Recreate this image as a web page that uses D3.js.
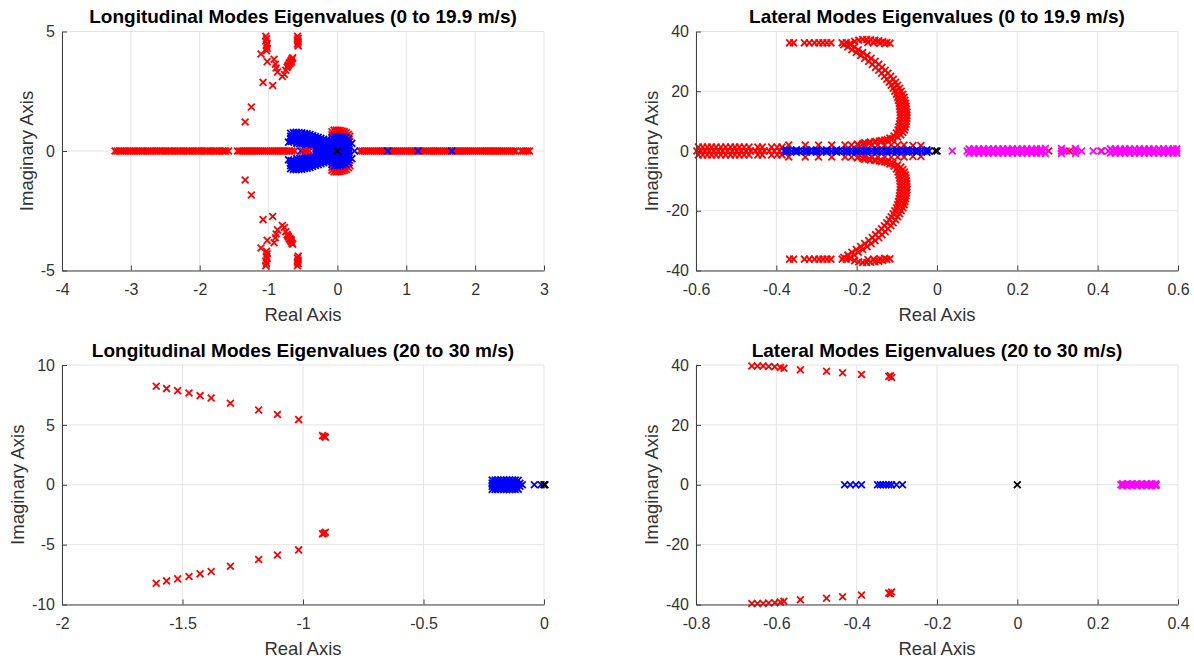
<!DOCTYPE html>
<html>
<head>
<meta charset="utf-8">
<script src="https://cdnjs.cloudflare.com/ajax/libs/d3/7.8.5/d3.min.js"></script>
<style>
  body { margin: 0; background: #fff; }
  svg { display: block; font-family: "Liberation Sans", Arial, Helvetica, sans-serif; }
</style>
</head>
<body>
<div id="chart"></div>
<script>
// eigenvalues. "Real" arrays sit on the real axis,
// "Cplx" arrays hold the upper half-plane value [re, im]; its conjugate is drawn too.

// ---- Longitudinal, 0 to 19.9 m/s ----
var lonLowRedReal = [-3.23,-3.2,-3.17,-3.14,-3.1,-3.07,-3.04,-3.01,-2.97,-2.94,-2.91,-2.88,-2.84,-2.81,-2.78,-2.75,-2.71,-2.68,-2.65,-2.62,-2.58,-2.55,-2.52,-2.49,-2.45,-2.42,-2.39,-2.36,-2.32,-2.29,-2.26,-2.23,-2.19,-2.16,-2.13,-2.1,-2.06,-2.03,-2.0,-1.97,-1.93,-1.9,-1.87,-1.84,-1.8,-1.77,-1.74,-1.71,-1.67,-1.64,-1.62,
  -1.58,
  -1.45,-1.42,-1.39,-1.36,-1.33,-1.3,-1.27,-1.24,-1.21,-1.18,-1.15,-1.12,-1.09,-1.06,-1.03,-1.0,-0.97,-0.94,-0.91,-0.88,-0.85,-0.82,-0.79,-0.76,-0.73,-0.7,-0.66,-0.62,
  0.33,0.36,0.39,0.42,0.45,0.48,0.51,0.54,0.57,0.6,0.63,0.66,0.69,0.72,0.75,0.78,0.81,0.84,0.87,0.9,0.93,0.96,0.99,1.02,1.05,1.08,1.11,1.14,1.17,1.2,1.23,1.26,1.29,1.33,1.36,1.39,1.42,1.45,1.48,1.51,1.54,1.57,1.6,1.63,1.66,1.69,1.72,1.75,1.78,1.81,1.84,1.87,1.9,1.93,1.96,1.99,2.02,2.05,2.08,2.11,2.14,2.17,2.2,2.23,2.26,2.29,2.32,2.35,2.38,2.41,2.44,2.47,2.5,2.53,2.56,2.59,2.67,2.7,2.73,2.76,2.79];
var lonLowRedTop = [-0.5,-0.45,-0.41]; // red real values drawn over the blue cloud
var lonLowRedCplx = [[-1.34,1.21],[-1.25,1.84],[-1.08,2.87],[-0.94,2.74],[-1.11,4.06],[-1.02,3.74],[-0.92,3.84],[-0.9,3.63],[-0.89,3.47],[-0.87,3.3],[-0.8,3.12],[-0.77,3.2],[-0.75,3.38],[-0.73,3.5],[-0.71,3.6],[-0.7,3.68],[-0.68,3.74],[-0.67,3.8],[-0.66,3.86],[-0.65,3.9],[-0.72,3.56],[-0.69,3.66],[-0.67,3.72],
  [-1.04,4.8],[-1.03,4.7],[-1.04,4.6],[-1.02,4.5],[-1.03,4.4],[-1.02,4.3],[-1.03,4.2],
  [-0.58,4.8],[-0.57,4.72],[-0.58,4.64],[-0.57,4.56],[-0.58,4.48],[-0.57,4.4],
  [-0.08,0.8],[-0.05,0.87],[-0.02,0.88],[0.01,0.87],[0.04,0.86],[0.07,0.84],[0.1,0.81],[0.13,0.77],[0.16,0.7],[0.18,0.62],[-0.08,0.68],[-0.04,0.74],[0.0,0.72],[0.05,0.72],[0.09,0.7],[0.13,0.64],[0.17,0.5],[0.02,0.22],[0.1,0.26],[0.15,0.18],[-0.06,0.12],[0.06,0.08]];
var lonLowBlueReal = [-0.53,-0.46,0.25,0.73,1.17,1.66];
var lonLowBlueCplx = [[-0.71,0.37],[0.21,0.32],
  [-0.68,0.74],[-0.68,0.62],[-0.68,0.5],[-0.67,0.4],
  [-0.64,0.77],[-0.64,0.65],[-0.64,0.53],[-0.63,0.42],
  [-0.6,0.78],[-0.6,0.66],[-0.6,0.54],[-0.6,0.42],[-0.59,0.32],
  [-0.56,0.77],[-0.56,0.65],[-0.56,0.53],[-0.55,0.41],[-0.55,0.31],
  [-0.52,0.76],[-0.52,0.64],[-0.52,0.52],[-0.51,0.4],[-0.51,0.3],
  [-0.48,0.74],[-0.48,0.62],[-0.48,0.5],[-0.47,0.38],[-0.47,0.28],
  [-0.44,0.72],[-0.44,0.6],[-0.44,0.48],[-0.43,0.36],[-0.43,0.26],
  [-0.4,0.69],[-0.4,0.57],[-0.4,0.45],[-0.39,0.33],[-0.39,0.22],
  [-0.36,0.65],[-0.36,0.53],[-0.36,0.41],[-0.35,0.29],[-0.35,0.18],
  [-0.32,0.61],[-0.32,0.49],[-0.32,0.37],[-0.31,0.25],[-0.31,0.13],[-0.31,0.03],
  [-0.28,0.57],[-0.28,0.45],[-0.28,0.33],[-0.27,0.21],[-0.27,0.09],
  [-0.24,0.53],[-0.24,0.41],[-0.24,0.29],[-0.23,0.17],[-0.23,0.05],
  [-0.2,0.49],[-0.2,0.37],[-0.2,0.25],[-0.19,0.13],[-0.19,0.01],
  [-0.16,0.46],[-0.16,0.34],[-0.16,0.22],[-0.15,0.1],
  [-0.12,0.44],[-0.12,0.32],[-0.12,0.2],[-0.11,0.07],
  [-0.08,0.56],[-0.08,0.42],[-0.08,0.28],[-0.07,0.14],[-0.07,0.01],
  [-0.04,0.62],[-0.04,0.47],[-0.04,0.32],[-0.03,0.17],[-0.03,0.03],
  [0.0,0.6],[0.0,0.45],[0.0,0.3],[0.01,0.15],
  [0.04,0.6],[0.04,0.45],[0.04,0.3],[0.05,0.15],[0.05,0.02],
  [0.08,0.58],[0.08,0.43],[0.08,0.28],[0.09,0.13],
  [0.12,0.55],[0.12,0.4],[0.12,0.25],[0.13,0.1],[0.13,0.0],
  [0.16,0.5],[0.16,0.35],[0.17,0.2],[0.17,0.06]];
var lonLowBlackReal = [0];

// ---- Lateral, 0 to 19.9 m/s ----
var latLowRedReal = [-0.598,-0.588,-0.578,-0.567,-0.556,-0.545,-0.534,-0.522,-0.51,-0.499,-0.488,-0.476,-0.464,-0.452,-0.441,-0.43,-0.418,-0.405,-0.392,-0.38,
  0.278,0.33,0.41];
var latLowRedCplx = [[-0.594,1.3],[-0.583,1.3],[-0.572,1.3],[-0.561,1.3],[-0.55,1.3],[-0.538,1.3],[-0.526,1.3],[-0.514,1.3],[-0.503,1.3],[-0.492,1.3],[-0.48,1.3],[-0.468,1.3],[-0.446,1.3],[-0.435,1.3],[-0.412,1.3],[-0.398,1.3],[-0.386,1.3],
  [-0.369,2],[-0.328,2],[-0.295,2],[-0.262,2],[-0.229,2],[-0.213,2],[-0.196,2],[-0.18,2],[-0.163,2],[-0.147,2],[-0.13,2],[-0.114,2],[-0.098,2],[-0.082,2],[-0.06,1.8],[-0.04,1.8],
  [-0.367,36.2],[-0.357,36.2],[-0.33,36.2],[-0.318,36.2],[-0.305,36.2],[-0.294,36.2],[-0.284,36.2],[-0.274,36.2],[-0.264,36.2],[-0.236,36.2],[-0.226,36.2],
  [-0.215,36.1],[-0.205,36.7],[-0.195,37.1],[-0.185,37.3],[-0.175,37.3],[-0.165,37.2],[-0.155,37.1],[-0.145,36.9],[-0.135,36.6],[-0.125,36.3],[-0.117,36.1],[-0.172,36.3],[-0.158,36.2],[-0.142,36.1],[-0.13,35.9],
  [-0.232,35.6],[-0.216,35.6],[-0.222,34.8],[-0.206,34.8],[-0.212,33.9],[-0.196,33.9],[-0.201,33.0],[-0.185,33.0],
  [-0.19,32.0],[-0.174,32.0],[-0.18,31.0],[-0.164,31.0],[-0.17,30.0],[-0.154,30.0],[-0.161,29.0],[-0.145,29.0],
  [-0.153,28.0],[-0.137,28.0],[-0.145,27.0],[-0.129,27.0],[-0.138,26.0],[-0.122,26.0],[-0.131,25.0],[-0.115,25.0],
  [-0.125,24.0],[-0.109,24.0],[-0.119,23.0],[-0.103,23.0],[-0.114,22.0],[-0.098,22.0],[-0.109,21.0],[-0.093,21.0],
  [-0.105,20.0],[-0.089,20.0],[-0.101,19.0],[-0.085,19.0],[-0.098,18.0],[-0.082,18.0],[-0.096,17.0],[-0.08,17.0],
  [-0.094,16.0],[-0.078,16.0],[-0.093,15.0],[-0.077,15.0],[-0.092,14.0],[-0.076,14.0],[-0.091,13.0],[-0.075,13.0],
  [-0.091,12.0],[-0.075,12.0],[-0.091,11.0],[-0.075,11.0],[-0.092,10.0],[-0.076,10.0],[-0.093,9.0],[-0.077,9.0],
  [-0.095,8.0],[-0.079,8.0],[-0.097,7.0],[-0.081,7.0],[-0.101,6.0],[-0.085,6.2],[-0.107,5.0],[-0.09,5.4],
  [-0.117,4.3],[-0.098,4.7],[-0.13,3.7],[-0.11,4.2],[-0.143,3.3],[-0.124,3.8],[-0.156,3.0],[-0.138,3.5],
  [-0.17,2.7],[-0.152,3.2],[-0.184,2.5],[-0.166,3.0],[-0.198,2.3],[-0.18,2.8]];
var latLowBlueReal = [-0.38,-0.371,-0.362,-0.353,-0.344,-0.335,-0.326,-0.317,-0.308,-0.299,-0.29,-0.281,-0.272,-0.263,-0.254,-0.245,-0.236,-0.227,-0.218,-0.209,-0.2,-0.191,-0.182,-0.173,-0.164,-0.155,-0.146,-0.137,-0.128,-0.119,-0.11,-0.101,-0.092,-0.083,-0.074,-0.065,-0.056,-0.047,-0.038,-0.029,-0.02];
var latLowBlueCplx = [[-0.375,0.4],[-0.35,0.4],[-0.325,0.4],[-0.3,0.4],[-0.275,0.4],[-0.25,0.4],[-0.225,0.4],[-0.2,0.4],[-0.175,0.4],[-0.15,0.4],[-0.125,0.4],[-0.1,0.4],[-0.075,0.4],[-0.05,0.4],[-0.025,0.4]];
var latLowMagReal = [0.038,0.075,0.085,0.095,0.105,0.115,0.125,0.135,0.145,0.155,0.165,0.175,0.185,0.195,0.205,0.215,0.225,0.235,0.245,0.255,0.262,
  0.31,0.322,0.346,0.36,0.389,0.408,
  0.427,0.437,0.447,0.457,0.467,0.477,0.487,0.497,0.507,0.517,0.527,0.537,0.547,0.557,0.567,0.577,0.587,0.596];
var latLowMagCplx = [[0.08,0.7],[0.092,0.7],[0.104,0.7],[0.116,0.7],[0.128,0.7],[0.14,0.7],[0.152,0.7],[0.164,0.7],[0.176,0.7],[0.188,0.7],[0.2,0.7],[0.212,0.7],[0.224,0.7],[0.236,0.7],[0.248,0.7],[0.258,0.7],
  [0.27,0.8],[0.31,0.8],[0.345,0.8],
  [0.432,0.7],[0.444,0.7],[0.456,0.7],[0.468,0.7],[0.48,0.7],[0.492,0.7],[0.504,0.7],[0.516,0.7],[0.528,0.7],[0.54,0.7],[0.552,0.7],[0.564,0.7],[0.576,0.7],[0.588,0.7],[0.597,0.7]];
var latLowBlackReal = [-0.004,0];

// ---- Longitudinal, 20 to 30 m/s ----
var lonHighRedCplx = [[-1.609,8.22],[-1.566,8.03],[-1.52,7.86],[-1.473,7.66],[-1.427,7.44],[-1.381,7.25],[-1.301,6.8],[-1.184,6.24],[-1.106,5.86],[-1.018,5.44],[-0.919,4.1],[-0.912,4.05],[-0.907,3.97]];
var lonHighBlueReal = [-0.21,-0.19,-0.17,-0.15,-0.13,-0.11,-0.09,-0.04,-0.012];
var lonHighBlueCplx = [[-0.215,0.4],[-0.203,0.4],[-0.191,0.4],[-0.179,0.4],[-0.167,0.4],[-0.155,0.4],[-0.143,0.4],[-0.131,0.4],[-0.119,0.4],[-0.107,0.38],
  [-0.215,0.15],[-0.205,0.15],[-0.195,0.15],[-0.185,0.15],[-0.175,0.15],[-0.165,0.15],[-0.155,0.15],[-0.145,0.15],[-0.135,0.15],[-0.125,0.15],[-0.115,0.15],[-0.1,0.12]];
var lonHighBlackReal = [0,0.004];

// ---- Lateral, 20 to 30 m/s ----
var latHighRedCplx = [[-0.661,39.65],[-0.647,39.65],[-0.633,39.65],[-0.619,39.5],[-0.604,39.4],[-0.59,39.2],[-0.581,38.9],[-0.54,38.4],[-0.475,37.9],[-0.435,37.4],[-0.388,36.8],[-0.32,36.2],[-0.316,36.4],[-0.313,35.8]];
var latHighBlueReal = [-0.43,-0.416,-0.402,-0.388,-0.348,-0.341,-0.334,-0.327,-0.32,-0.313,-0.301,-0.286];
var latHighMagReal = [0.258,0.264,0.27,0.276,0.282,0.288,0.294,0.3,0.306,0.312,0.318,0.324,0.33,0.336,0.342,0.346];
var latHighMagCplx = [[0.262,0.35],[0.274,0.35],[0.286,0.35],[0.298,0.35],[0.31,0.35],[0.322,0.35],[0.334,0.35],[0.344,0.35]];
var latHighBlackReal = [0];

// tick values
var lonLowXTicks = [-4,-3,-2,-1,0,1,2,3], lonLowYTicks = [-5,0,5];
var latXTicksLow = [-0.6,-0.4,-0.2,0,0.2,0.4,0.6], latYTicks = [-40,-20,0,20,40];
var lonHighXTicks = [-2,-1.5,-1,-0.5,0], lonHighYTicks = [-10,-5,0,5,10];
var latXTicksHigh = [-0.8,-0.6,-0.4,-0.2,0,0.2,0.4];

var panels = [
  {title: "Longitudinal Modes Eigenvalues (0 to 19.9 m/s)", box: {left: 62, top: 31.5, width: 482, height: 239},
   xDomain: [-4, 3], yDomain: [-5, 5], xTicks: lonLowXTicks, yTicks: lonLowYTicks,
   series: [{color: "#ff0000", real: lonLowRedReal, cplx: lonLowRedCplx},
            {color: "#0000ff", real: lonLowBlueReal, cplx: lonLowBlueCplx},
            {color: "#ff0000", real: lonLowRedTop, cplx: []},
            {color: "#000000", real: lonLowBlackReal, cplx: []}]},
  {title: "Lateral Modes Eigenvalues (0 to 19.9 m/s)", box: {left: 696, top: 31.5, width: 482, height: 239},
   xDomain: [-0.6, 0.6], yDomain: [-40, 40], xTicks: latXTicksLow, yTicks: latYTicks,
   series: [{color: "#ff0000", real: latLowRedReal, cplx: latLowRedCplx},
            {color: "#0000ff", real: latLowBlueReal, cplx: latLowBlueCplx},
            {color: "#ff00ff", real: latLowMagReal, cplx: latLowMagCplx},
            {color: "#000000", real: latLowBlackReal, cplx: []}]},
  {title: "Longitudinal Modes Eigenvalues (20 to 30 m/s)", box: {left: 62, top: 365, width: 482, height: 239.5},
   xDomain: [-2, 0], yDomain: [-10, 10], xTicks: lonHighXTicks, yTicks: lonHighYTicks,
   series: [{color: "#ff0000", real: [], cplx: lonHighRedCplx},
            {color: "#0000ff", real: lonHighBlueReal, cplx: lonHighBlueCplx},
            {color: "#000000", real: lonHighBlackReal, cplx: []}]},
  {title: "Lateral Modes Eigenvalues (20 to 30 m/s)", box: {left: 696, top: 365, width: 482, height: 239.5},
   xDomain: [-0.8, 0.4], yDomain: [-40, 40], xTicks: latXTicksHigh, yTicks: latYTicks,
   series: [{color: "#ff0000", real: [], cplx: latHighRedCplx},
            {color: "#0000ff", real: latHighBlueReal, cplx: []},
            {color: "#ff00ff", real: latHighMagReal, cplx: latHighMagCplx},
            {color: "#000000", real: latHighBlackReal, cplx: []}]}
];

function points(real, cplx) {
  var out = real.map(function(r) { return [r, 0]; });
  cplx.forEach(function(c) { out.push([c[0], c[1]]); out.push([c[0], -c[1]]); });
  return out;
}

function fmt(d) { return String(+d.toFixed(2)); }

var s = 3.4;
var xMark = "M" + (-s) + "," + (-s) + "L" + s + "," + s + "M" + (-s) + "," + s + "L" + s + "," + (-s);

var svg = d3.select("#chart").append("svg")
    .attr("width", 1194)
    .attr("height", 661);

panels.forEach(function(p) {
  var w = p.box.width, h = p.box.height;
  var g = svg.append("g")
      .attr("transform", "translate(" + p.box.left + "," + p.box.top + ")");

  var x = d3.scaleLinear().domain(p.xDomain).range([0, w]);
  var y = d3.scaleLinear().domain(p.yDomain).range([h, 0]);

  // grid
  var grid = g.append("g").attr("stroke", "#e4e4e4").attr("stroke-width", 1);
  grid.selectAll(".gx").data(p.xTicks).enter().append("line")
      .attr("x1", function(d) { return x(d); }).attr("x2", function(d) { return x(d); })
      .attr("y1", 0).attr("y2", h);
  grid.selectAll(".gy").data(p.yTicks).enter().append("line")
      .attr("y1", function(d) { return y(d); }).attr("y2", function(d) { return y(d); })
      .attr("x1", 0).attr("x2", w);

  // markers
  p.series.forEach(function(sr) {
    g.append("g")
      .selectAll("path")
      .data(points(sr.real, sr.cplx))
      .enter()
      .append("path")
        .attr("d", xMark)
        .attr("transform", function(d) { return "translate(" + x(d[0]) + "," + y(d[1]) + ")"; })
        .attr("fill", "none")
        .attr("stroke", sr.color)
        .attr("stroke-width", 1.8);
  });

  // axes
  var xa = g.append("g")
      .attr("transform", "translate(0," + h + ")")
      .call(d3.axisBottom(x).tickValues(p.xTicks).tickFormat(fmt).tickSizeInner(-5).tickSizeOuter(0).tickPadding(13));
  var ya = g.append("g")
      .call(d3.axisLeft(y).tickValues(p.yTicks).tickFormat(fmt).tickSizeInner(-5).tickSizeOuter(0).tickPadding(7));
  [xa, ya].forEach(function(a) {
    a.select(".domain").attr("stroke", "#404040");
    a.selectAll(".tick line").attr("stroke", "#404040");
    a.selectAll("text").attr("fill", "#333").style("font-size", "16px").style("font-family", "'Liberation Sans', Arial, sans-serif");
  });

  var maxW = 0;
  ya.selectAll("text").each(function() { maxW = Math.max(maxW, this.getComputedTextLength()); });

  g.append("text")
      .attr("x", w / 2).attr("y", h + 50)
      .attr("text-anchor", "middle")
      .attr("fill", "#333")
      .style("font-size", "18.5px")
      .text("Real Axis");

  g.append("text")
      .attr("transform", "translate(" + (-(maxW + 7 + 8)) + "," + (h / 2) + ") rotate(-90)")
      .attr("text-anchor", "middle")
      .attr("fill", "#333")
      .style("font-size", "18.5px")
      .text("Imaginary Axis");

  g.append("text")
      .attr("x", w / 2).attr("y", -8.5)
      .attr("text-anchor", "middle")
      .attr("fill", "#000")
      .style("font-size", "19px")
      .style("font-weight", "bold")
      .text(p.title);
});
</script>
</body>
</html>
